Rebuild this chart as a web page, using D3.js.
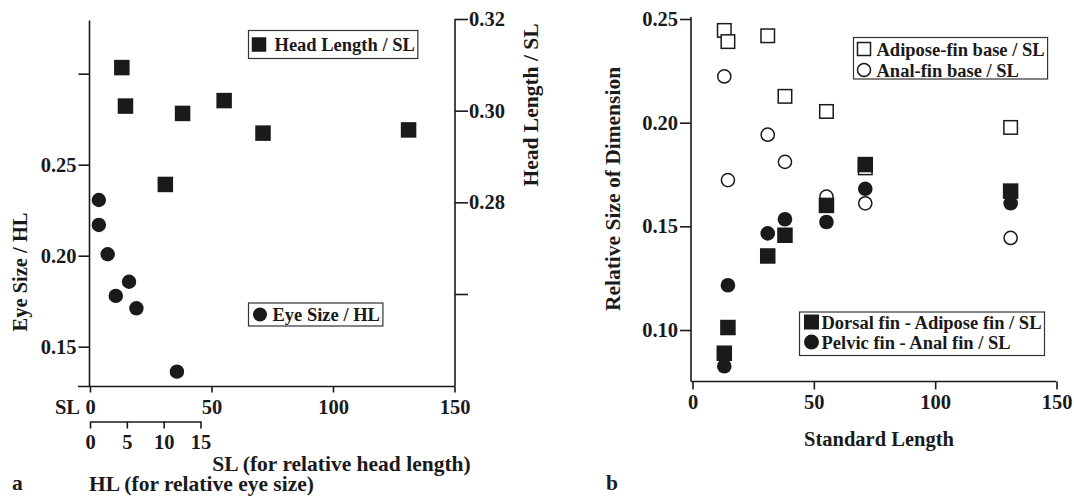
<!DOCTYPE html>
<html><head><meta charset="utf-8">
<script src="https://cdn.jsdelivr.net/npm/d3@7"></script>
<style>
body{margin:0;background:#fff;}
svg text{font-family:"Liberation Serif","Times New Roman",serif;font-weight:bold;fill:#1a1a1a;}
</style></head><body>
<svg id="c" width="1074" height="496"></svg>
<script>
// ---- data ----
const standardLength = [13.1, 14.6, 31.0, 38.1, 55.2, 71.2, 131.1];
const headLengthSL   = [0.3094, 0.3010, 0.2839, 0.2994, 0.3022, 0.2951, 0.2958];
const headLengthHL   = [1.2, 1.2, 2.4, 5.3, 3.5, 6.3, 11.8];
const eyeSizeHL      = [0.2306, 0.2169, 0.2008, 0.1857, 0.1779, 0.1711, 0.1363];
const adiposeBaseSL  = [0.2445, 0.2391, 0.2419, 0.2127, 0.2054, 0.1782, 0.1977];
const analBaseSL     = [0.2223, 0.1723, 0.1942, 0.1811, 0.1643, 0.1611, 0.1444];
const dorsalAdiposeSL= [0.0888, 0.1012, 0.1357, 0.1457, 0.1601, 0.1798, 0.1670];
const pelvicAnalSL   = [0.0825, 0.1216, 0.1466, 0.1534, 0.1521, 0.1681, 0.1611];
const slTicks = [0, 50, 100, 150];
const hlTicks = [0, 5, 10, 15];
const eyeTicks = [0.15, 0.20, 0.25, 0.30];
const eyeTickLabels = ["0.15", "0.20", "0.25", ""];
const headTicks = [0.26, 0.28, 0.30, 0.32];
const headTickLabels = ["", "0.28", "0.30", "0.32"];
const relTicks = [0.10, 0.15, 0.20, 0.25];
const relTickLabels = ["0.10", "0.15", "0.20", "0.25"];

const svg = d3.select("#c");
const INK = "#1a1a1a";
const TICKFS = "20.5px", LEGFS = "18.5px", TITLEFS = "21.5px", TITLEFS2 = "20.5px";

function styleAxis(g){
  g.selectAll("line").attr("stroke", INK).attr("stroke-width", 1.6);
  g.selectAll("path").attr("stroke", INK).attr("stroke-width", 1.6);
  g.selectAll("text").style("font-size", TICKFS).attr("fill", INK)
    .style("font-family", '"Liberation Serif",serif').style("font-weight", "bold");
}
function vline(x, y1, y2){ svg.append("line").attr("x1",x).attr("x2",x).attr("y1",y1).attr("y2",y2).attr("stroke",INK).attr("stroke-width",1.6); }
function hline(y, x1, x2){ svg.append("line").attr("x1",x1).attr("x2",x2).attr("y1",y).attr("y2",y).attr("stroke",INK).attr("stroke-width",1.6); }

// ================= Panel a =================
const xL = d3.scaleLinear().domain([0,150]).range([90, 454.5]);
const xHL = d3.scaleLinear().domain([0,15]).range([90, 200.5]);
const yEye = d3.scaleLinear().domain([0.15,0.25]).range([346.7,164.7]);
const yHead = d3.scaleLinear().domain([0.26,0.32]).range([294,19]);

vline(89.5, 20.5, 386.5);
vline(455, 19, 386.5);
hline(386.5, 78, 455);

svg.append("g").attr("transform","translate(89.5,0)")
  .call(d3.axisLeft(yEye).tickValues(eyeTicks).tickSize(11).tickPadding(2).tickFormat((d,i)=>eyeTickLabels[i]))
  .call(g=>g.select(".domain").remove()).call(styleAxis);
svg.append("g").attr("transform","translate(455,0)")
  .call(d3.axisRight(yHead).tickValues(headTicks).tickSize(13).tickPadding(1).tickFormat((d,i)=>headTickLabels[i]))
  .call(g=>g.select(".domain").remove()).call(styleAxis);
svg.append("g").attr("transform","translate(0,386.5)")
  .call(d3.axisBottom(xL).tickValues(slTicks).tickSize(6).tickPadding(7).tickFormat(d3.format("d")))
  .call(g=>g.select(".domain").remove()).call(styleAxis);
svg.append("g").attr("transform","translate(0,421.5)")
  .call(d3.axisBottom(xHL).tickValues(hlTicks).tickSize(7).tickPadding(6).tickSizeOuter(0).tickFormat(d3.format("d")))
  .call(styleAxis);

svg.append("text").attr("x",80).attr("y",413.5).attr("text-anchor","end").style("font-size",TICKFS).text("SL");

// head length squares
const sqL = 15.5;
svg.append("g").selectAll("rect").data(standardLength).join("rect")
  .attr("x",(d)=>xL(d)-sqL/2).attr("y",(d,i)=>yHead(headLengthSL[i])-sqL/2)
  .attr("width",sqL).attr("height",sqL).attr("fill",INK);
// eye size circles
svg.append("g").selectAll("circle").data(headLengthHL).join("circle")
  .attr("cx",d=>xHL(d)).attr("cy",(d,i)=>yEye(eyeSizeHL[i])).attr("r",7.2).attr("fill",INK);

// legends
function legendBox(x, y, rows, rowH){
  const g = svg.append("g");
  const box = g.append("rect").attr("x",x).attr("y",y).attr("fill","#fff").attr("stroke","#333").attr("stroke-width",1.2);
  let maxR = 0;
  rows.forEach((r,i)=>{
    const cy = y + r.cyOff + i*rowH;
    const mx = x + r.mx;
    if(r.shape==="sq") g.append("rect").attr("x",mx-r.s/2).attr("y",cy-r.s/2).attr("width",r.s).attr("height",r.s)
        .attr("fill",r.fill?INK:"#fff").attr("stroke",INK).attr("stroke-width",r.fill?0:1.5);
    else g.append("circle").attr("cx",mx).attr("cy",cy).attr("r",r.s/2)
        .attr("fill",r.fill?INK:"#fff").attr("stroke",INK).attr("stroke-width",r.fill?0:1.5);
    const t = g.append("text").attr("x",x+r.tx).attr("y",cy+6.5).style("font-size",LEGFS).text(r.label);
    const bb = t.node().getBBox();
    maxR = Math.max(maxR, bb.x+bb.width);
  });
  box.attr("width", maxR - x + 3).attr("height", rows[0].h);
}
legendBox(248.5, 30.5, [{shape:"sq",fill:true,s:14.5,mx:10.5,cyOff:14,tx:26,label:"Head Length / SL",h:28}], 0);
legendBox(248.5, 303, [{shape:"ci",fill:true,s:14,mx:11.5,cyOff:11.5,tx:24,label:"Eye Size / HL",h:23}], 0);

// titles panel a
svg.append("text").attr("transform","translate(27,272) rotate(-90)").attr("text-anchor","middle").style("font-size",TITLEFS2).text("Eye Size / HL");
svg.append("text").attr("transform","translate(538,105) rotate(-90)").attr("text-anchor","middle").style("font-size",TITLEFS).text("Head Length / SL");
svg.append("text").attr("x",341.5).attr("y",471).attr("text-anchor","middle").style("font-size",TITLEFS).text("SL (for relative head length)");
svg.append("text").attr("x",201.5).attr("y",491).attr("text-anchor","middle").style("font-size",TITLEFS).text("HL (for relative eye size)");
svg.append("text").attr("x",12).attr("y",490).style("font-size",TITLEFS).text("a");

// ================= Panel b =================
const xR = d3.scaleLinear().domain([0,150]).range([692.5, 1056.5]);
const yR = d3.scaleLinear().domain([0.10,0.25]).range([330,19]);

vline(691, 17, 381.5);
hline(381.5, 691, 1056.5);
svg.append("g").attr("transform","translate(691,0)")
  .call(d3.axisLeft(yR).tickValues(relTicks).tickSize(11).tickPadding(2).tickFormat((d,i)=>relTickLabels[i]))
  .call(g=>g.select(".domain").remove()).call(styleAxis);
svg.append("g").attr("transform","translate(0,381.5)")
  .call(d3.axisBottom(xR).tickValues(slTicks).tickSize(8).tickPadding(5).tickFormat(d3.format("d")))
  .call(g=>g.select(".domain").remove()).call(styleAxis);

const sqO = 13.5, sqF = 15.5;
svg.append("g").selectAll("rect").data(standardLength).join("rect")
  .attr("x",d=>xR(d)-sqO/2).attr("y",(d,i)=>yR(adiposeBaseSL[i])-sqO/2).attr("width",sqO).attr("height",sqO)
  .attr("fill","#fff").attr("stroke",INK).attr("stroke-width",1.5);
svg.append("g").selectAll("circle").data(standardLength).join("circle")
  .attr("cx",d=>xR(d)).attr("cy",(d,i)=>yR(analBaseSL[i])).attr("r",6.6)
  .attr("fill","#fff").attr("stroke",INK).attr("stroke-width",1.5);
svg.append("g").selectAll("rect").data(standardLength).join("rect")
  .attr("x",d=>xR(d)-sqF/2).attr("y",(d,i)=>yR(dorsalAdiposeSL[i])-sqF/2).attr("width",sqF).attr("height",sqF)
  .attr("fill",INK);
svg.append("g").selectAll("circle").data(standardLength).join("circle")
  .attr("cx",d=>xR(d)).attr("cy",(d,i)=>yR(pelvicAnalSL[i])).attr("r",7.3).attr("fill",INK);

legendBox(853.5, 37.5, [
  {shape:"sq",fill:false,s:13,mx:10.5,cyOff:11.5,tx:23,label:"Adipose-fin base / SL",h:41.5},
  {shape:"ci",fill:false,s:13,mx:10.5,cyOff:11.5,tx:23,label:"Anal-fin base / SL"}], 21);
legendBox(799.5, 312, [
  {shape:"sq",fill:true,s:15,mx:12,cyOff:10,tx:22,label:"Dorsal fin - Adipose fin / SL",h:43.5},
  {shape:"ci",fill:true,s:15,mx:12,cyOff:10,tx:22,label:"Pelvic fin - Anal fin / SL"}], 20);

svg.append("text").attr("transform","translate(620,189) rotate(-90)").attr("text-anchor","middle").style("font-size",TITLEFS).text("Relative Size of Dimension");
svg.append("text").attr("x",879).attr("y",446).attr("text-anchor","middle").style("font-size",TITLEFS2).text("Standard Length");
svg.append("text").attr("x",606).attr("y",490).style("font-size",TITLEFS).text("b");
</script>
</body></html>
